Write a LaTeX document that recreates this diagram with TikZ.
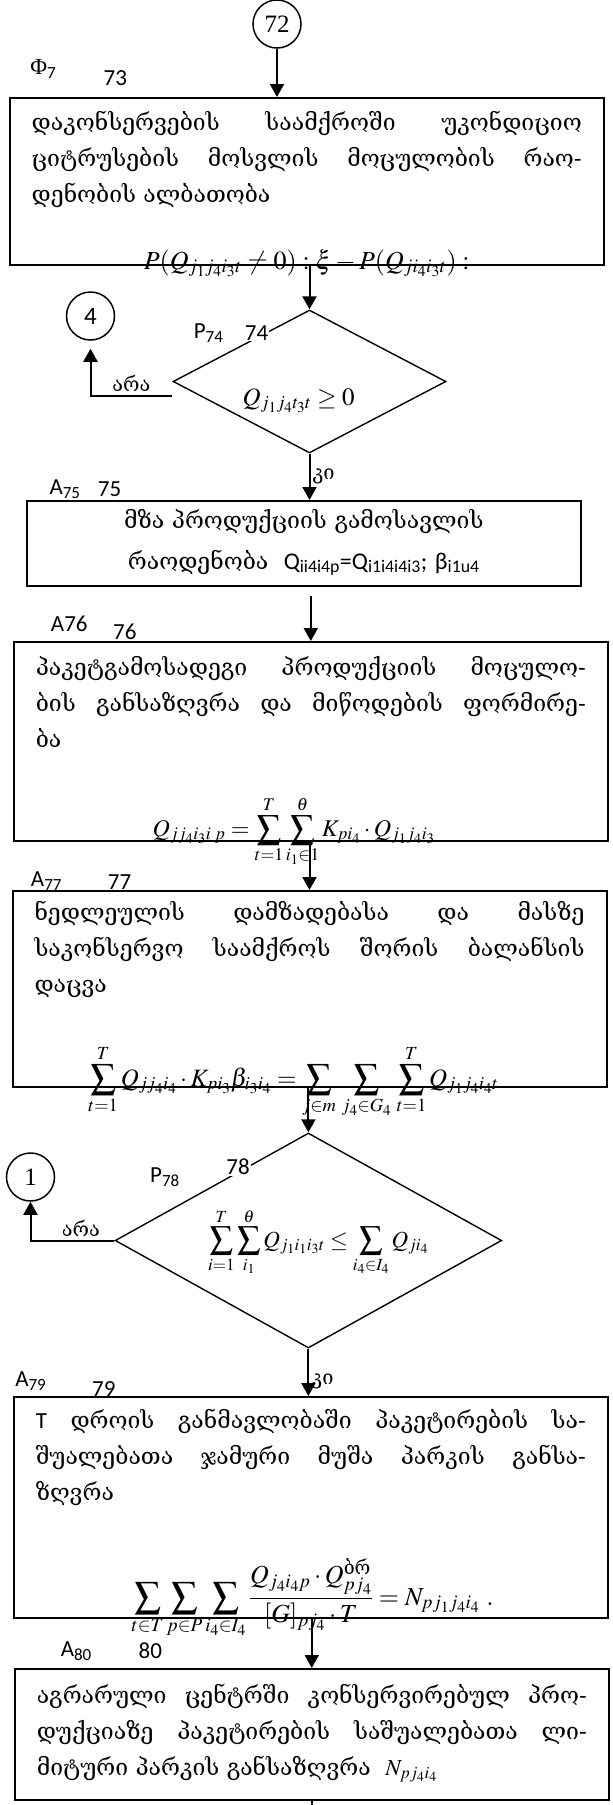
\documentclass[tikz,border=0pt]{standalone}
\usepackage{amsmath}
\usepackage{mathptmx}
\usepackage[no-math]{fontspec}
\setmainfont{Liberation Serif}
\newfontfamily\geo{DejaVu Serif}
\newfontfamily\lab{Carlito}
\usetikzlibrary{shapes.geometric, arrows.meta}
\hbadness=10000

\newcommand{\geotext}{\geo\fontsize{23}{36}\selectfont}

\tikzstyle{procbox} = [rectangle, draw=black, line width=2pt,
inner xsep=22pt, inner ysep=0pt,
text width=550pt,
align=justify,
font=\geotext]
\tikzstyle{decision} = [diamond, draw=black, line width=1.4pt,
inner sep=0pt]
\tikzstyle{connector} = [circle, draw=black, line width=1.5pt,
minimum size=48pt, inner sep=0pt]
\tikzstyle{idlabel} = [font=\lab\fontsize{23}{23}\selectfont, inner sep=1pt]
\tikzstyle{formula} = [anchor=base, inner sep=0pt, font=\fontsize{25}{28}\selectfont]
\tikzstyle{nolabel} = [above, font=\geo\fontsize{20}{20}\selectfont]
\tikzstyle{yeslabel} = [right, inner sep=2pt, font=\geo\fontsize{20}{20}\selectfont]
\tikzstyle{arrow} = [line width=2pt, -{Triangle[length=13pt,width=14pt]}]

\begin{document}
\begin{tikzpicture}[x=1pt, y=1pt, node distance=200pt]
\useasboundingbox (0,0) rectangle (613,-1805);

\node (c72) [connector] at (277,-24) {\fontsize{25}{25}\selectfont 72};

\node (b73) [procbox, below of=c72, xshift=29.7pt, yshift=42.5pt, text height=32pt, text depth=135pt] {დაკონსერვების საამქროში უკონდიციო\linebreak ციტრუსების მოსვლის მოცულობის რაო-\linebreak დენობის ალბათობა};
\node (f73) [formula, font=\fontsize{26}{28}\selectfont] at ([yshift=-3pt]b73.south) {$P(Q_{j_1j_4i_3t}\neq 0):\xi-P(Q_{ji_4i_3t}):$};
\node (lf7) [idlabel] at ([xshift=34.6pt, yshift=28pt]b73.north west) {{\rmfamily Φ}\textsubscript{7}};
\node (l73) [idlabel] at ([xshift=106.6pt, yshift=19pt]b73.north west) {73};

\node (d74) [decision, below of=b73, xshift=2.8pt, minimum width=273pt, minimum height=143pt] {};
\node (f74) [formula] at ([xshift=-10.9pt, yshift=-23.5pt]d74.center) {$Q_{j_1j_4t_3t}\geq 0$};
\node (lp74) [idlabel] at ([xshift=-100.9pt, yshift=48.5pt]d74.center) {P\textsubscript{74}};
\node (l74) [idlabel, fill=white] at ([xshift=-52.9pt, yshift=48.5pt]d74.center) {74};
\node (c4) [connector] at ([xshift=-219pt, yshift=65.5pt]d74.center) {\lab\fontsize{25}{25}\selectfont 4};

\node (b75) [procbox, below of=d74, xshift=-5.7pt, yshift=38pt, align=center, text width=509.5pt, text height=27pt, text depth=58pt, font=\geo\fontsize{23}{41}\selectfont] {მზა პროდუქციის გამოსავლის\\ რაოდენობა\ \ {\lab\fontsize{24}{41}\selectfont Q\textsubscript{ii4i4p}=Q\textsubscript{i1i4i4i3}; β\textsubscript{i1u4}}};
\node (la75) [idlabel] at ([xshift=39pt, yshift=11pt]b75.north west) {A\textsubscript{75}};
\node (l75) [idlabel] at ([xshift=83.5pt, yshift=11pt]b75.north west) {75};

\node (b76) [procbox, below of=b75, xshift=7pt, yshift=2pt, text height=33pt, text depth=166pt] {პაკეტგამოსადეგი პროდუქციის მოცულო-\linebreak ბის განსაზღვრა და მიწოდების ფორმირე-\linebreak ბა};
\node (f76) [formula, font=\fontsize{24}{28}\selectfont] at ([xshift=-17pt, yshift=6pt]b76.south) {$\displaystyle Q_{jj_4i_3i\;p}=\sum_{t=1}^{T}\sum_{i_1\in 1}^{\theta}K_{pi_4}\cdot Q_{j_1j_4i_3}$};
\node (la76) [idlabel] at ([xshift=56.5pt, yshift=17pt]b76.north west) {A76};
\node (l76) [idlabel] at ([xshift=112pt, yshift=9pt]b76.north west) {76};

\node (b77) [procbox, below of=b76, xshift=-1.3pt, yshift=-47.5pt, text height=29pt, text depth=167pt] {ნედლეულის დამზადებასა და მასზე\linebreak საკონსერვო საამქროს შორის ბალანსის\linebreak დაცვა};
\node (f77) [formula] at ([xshift=-16pt, yshift=2pt]b77.south) {$\displaystyle \sum_{t=1}^{T}Q_{jj_4i_4}\cdot K_{pi_3}\beta_{i_3i_4}=\sum_{j\in m}\,\sum_{j_4\in G_4}\,\sum_{t=1}^{T}Q_{j_1j_4i_4t}$};
\node (la77) [idlabel] at ([xshift=35pt, yshift=9pt]b77.north west) {A\textsubscript{77}};
\node (l77) [idlabel] at ([xshift=108pt, yshift=8pt]b77.north west) {77};

\node (d78) [decision, below of=b77, xshift=-1.1pt, yshift=-51.5pt, minimum width=386.6pt, minimum height=215pt] {};
\node (f78) [formula, font=\fontsize{23}{28}\selectfont] at ([xshift=10pt, yshift=-6.5pt]d78.center) {$\displaystyle \sum_{i=1}^{T}\sum_{i_1}^{\theta}Q_{j_1i_1i_3t}\leq\sum_{i_4\in I_4}Q_{ji_4}$};
\node (lp78) [idlabel] at ([xshift=-143.4pt, yshift=63.5pt]d78.center) {P\textsubscript{78}};
\node (l78) [idlabel, fill=white] at ([xshift=-70.4pt, yshift=73.5pt]d78.center) {78};
\node (c1) [connector] at ([xshift=-277.9pt, yshift=63.5pt]d78.center) {\fontsize{25}{25}\selectfont 1};

\node (b79) [procbox, below of=d78, xshift=2.4pt, yshift=-67pt, text height=31pt, text depth=190pt] {{\lab T} დროის განმავლობაში პაკეტირების სა-\linebreak შუალებათა ჯამური მუშა პარკის განსა-\linebreak ზღვრა};
\node (f79) [formula, font=\fontsize{26}{28}\selectfont] at ([xshift=1.8pt, yshift=14pt]b79.south) {$\displaystyle \sum_{t\in T}\sum_{p\in P}\sum_{i_4\in I_4}\frac{Q_{j_4i_4p}\cdot Q_{pj_4}^{\text{\geo ბრ}}}{[G]_{pj_4}\cdot T}=N_{pj_1j_4i_4}\ .$};
\node (la79) [idlabel] at ([xshift=18pt, yshift=15pt]b79.north west) {A\textsubscript{79}};
\node (l79) [idlabel] at ([xshift=91pt, yshift=7pt]b79.north west) {79};

\node (b80) [procbox, below of=b79, xshift=1pt, yshift=-27pt, text height=34pt, text depth=97pt] {აგრარული ცენტრში კონსერვირებულ პრო-\linebreak დუქციაზე პაკეტირების საშუალებათა ლი-\linebreak მიტური პარკის განსაზღვრა\ \ $N_{pj_4i_4}$};
\node (la80) [idlabel] at ([xshift=62.5pt, yshift=17pt]b80.north west) {A\textsubscript{80}};
\node (l80) [idlabel] at ([xshift=136.6pt, yshift=17pt]b80.north west) {80};
\coordinate (out80) at ([yshift=-10pt]b80.south);

\draw [arrow] (c72) -- (c72 |- b73.north);
\draw [arrow] (b73.south -| d74.north) -- (d74.north);
\draw [arrow, shorten >=8pt] ([yshift=-14.5pt]d74.west) -| node[nolabel, pos=0.25] {არა} (c4.south);
\draw [arrow] (d74.south) -- node[yeslabel, pos=0.5] {კი} (d74.south |- b75.north);
\draw [arrow] ([yshift=-9pt]b75.south -| b76.north) -- (b76.north);
\draw [arrow] (b76.south -| b77.north) -- (b77.north);
\draw [arrow] (b77.south -| d78.north) -- (d78.north);
\draw [arrow] (d78.west) -| node[nolabel, pos=0.2] {არა} (c1.south);
\draw [arrow] (d78.south) -- node[yeslabel, pos=0.7] {კი} (d78.south |- b79.north);
\draw [arrow] (b79.south -| b80.north) -- (b80.north);
\draw [line width=2pt] (b80.south) -- (out80);

\end{tikzpicture}
\end{document}
